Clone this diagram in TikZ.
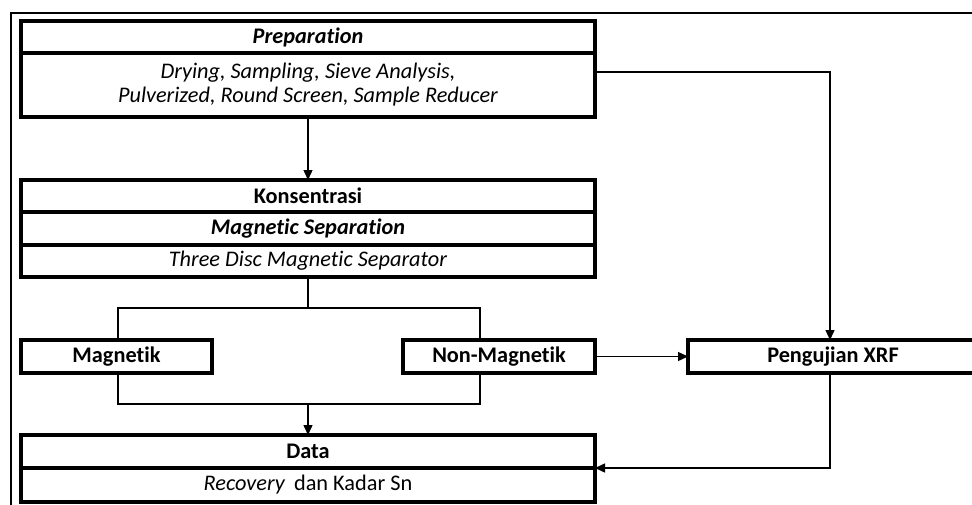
\documentclass[tikz,border=0pt]{standalone}
\usepackage{fontspec}
\setmainfont{Carlito}[Ligatures={NoCommon}]
\usetikzlibrary{arrows.meta,calc}
\begin{document}
\begin{tikzpicture}[x=1pt,y=-1pt,
  box/.style={draw,line width=3.2pt,rectangle,anchor=north west,inner sep=0pt,outer sep=0pt,font=\fontsize{22.3}{25}\selectfont,align=center},
  conn/.style={line width=1.4pt},
  arr/.style={conn,-{Triangle[length=10pt,width=9pt]}}]
\useasboundingbox (0,0) rectangle (972,504);
\clip (0,0) rectangle (972,504);
\fill[white] (0,0) rectangle (972,504);
\draw[line width=2pt] (975,13) -- (11,13) -- (11,510);
% Preparation
\node[box,minimum width=574pt,minimum height=32pt] (prepT) at (21,21) {\textbf{\textit{Preparation}}};
\node[box,minimum width=574pt,minimum height=64pt] (prepB) at (21,53) {\raisebox{-4pt}{\begin{tabular}{@{}c@{}}\textit{Drying, Sampling, Sieve Analysis,}\\[-1pt]\textit{Pulverized, Round Screen, Sample Reducer}\end{tabular}}};
% Konsentrasi
\node[box,minimum width=574pt,minimum height=32pt] (kon1) at (21,180) {\textbf{Konsentrasi}};
\node[box,minimum width=574pt,minimum height=33pt] (kon2) at (21,212) {\textbf{\textit{Magnetic Separation}}};
\node[box,minimum width=574pt,minimum height=32pt] (kon3) at (21,245) {\textit{Three Disc Magnetic Separator}};
% Magnetik / Non-Magnetik
\node[box,minimum width=191pt,minimum height=33pt] (mag) at (21,340) {\textbf{Magnetik}};
\node[box,minimum width=192pt,minimum height=33pt] (nonmag) at (403,340) {\textbf{Non-Magnetik}};
% XRF
\node[box,minimum width=290pt,minimum height=33pt] (xrf) at (688,340) {\textbf{Pengujian XRF}};
% Data
\node[box,minimum width=574pt,minimum height=33pt] (data1) at (21,435) {\textbf{Data}};
\node[box,minimum width=574pt,minimum height=34pt] (data2) at (21,468) {\textit{Recovery}\, dan Kadar Sn};
% connectors
\draw[arr] (prepB.south) -- (kon1.north);
\coordinate (sl) at (118,308);
\coordinate (sr) at (480,308);
\draw[conn] (kon3.south) |- (sl) -- (sl |- mag.north);
\draw[conn] (kon3.south) |- (sr) -- (sr |- nonmag.north);
\coordinate (jl) at (118,404);
\coordinate (jr) at (480,404);
\coordinate (jm) at (data1.north |- jl);
\draw[conn] (jl |- mag.south) -- (jl) -- (jr) -- (jr |- nonmag.south);
\draw[arr] (jm) -- (data1.north);
\coordinate (p1) at (595,72);
\coordinate (xtop) at (830,340);
\draw[arr] (p1) -| (xtop);
\draw[arr] (nonmag.east) -- (xrf.west);
\coordinate (xbot) at (830,373);
\draw[arr] (xbot) |- (data1.south east);
\end{tikzpicture}
\end{document}
